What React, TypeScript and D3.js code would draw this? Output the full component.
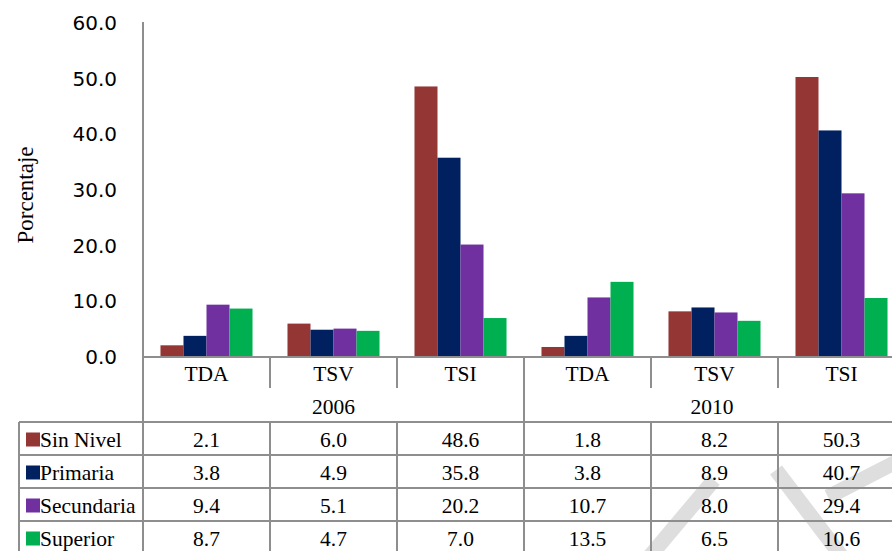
import React from 'react'
import * as d3 from 'd3'

const categories = ['TDA', 'TSV', 'TSI', 'TDA', 'TSV', 'TSI']
const years = ['2006', '2010']
const seriesNames = ['Sin Nivel', 'Primaria', 'Secundaria', 'Superior']
const seriesColors = ['#943634', '#002060', '#7030A0', '#00B050']
const sinNivel = [2.1, 6.0, 48.6, 1.8, 8.2, 50.3]
const primaria = [3.8, 4.9, 35.8, 3.8, 8.9, 40.7]
const secundaria = [9.4, 5.1, 20.2, 10.7, 8.0, 29.4]
const superior = [8.7, 4.7, 7.0, 13.5, 6.5, 10.6]
const yTicks = [0, 10, 20, 30, 40, 50, 60]

const series = [sinNivel, primaria, secundaria, superior]

const W = 892
const H = 551
const axisX = 143
const baseY = 357
const lineColor = '#8e8e8e'
const serifStyle = { fontFamily: 'Liberation Serif, Tinos, DejaVu Serif, serif' }
const fs = 21.5

export default function App() {
  const x0 = d3.scaleBand<number>().domain(d3.range(categories.length)).range([axisX, axisX + 127 * 6])
  const x1 = d3.scaleBand<number>().domain(d3.range(series.length)).range([0, x0.bandwidth()]).paddingOuter(0.76)
  const y = d3.scaleLinear().domain([0, 60]).range([baseY, 23])

  const catRowBottom = 388
  const yearRowBottom = 422
  const rowH = 33
  const groupEdges = d3.range(categories.length).map(i => x0(i)! + x0.bandwidth())
  const yearCenters = [(x0(0)! + x0(2)! + x0.bandwidth()) / 2, 712]

  return (
    <svg width={W} height={H} style={{ position: 'absolute', left: 0, top: 0, background: '#fff' }}>
      {/* watermark */}
      <g stroke="#dedede" strokeWidth={15}>
        <line x1={645} y1={562} x2={714} y2={480} />
        <line x1={776} y1={470} x2={846} y2={562} />
        <line x1={828} y1={497} x2={900} y2={460} />
      </g>

      {/* y label */}
      <text transform={`translate(25,195) rotate(-90)`} textAnchor="middle" dominantBaseline="central"
        style={serifStyle} fontSize={23}>Porcentaje</text>

      {/* y ticks */}
      {yTicks.map(t => (
        <text key={t} x={117} y={y(t)} textAnchor="end" dominantBaseline="central"
          style={{ fontFamily: 'DejaVu Sans, sans-serif' }} fontSize={20}>{t.toFixed(1)}</text>
      ))}

      {/* bars */}
      {series.map((vals, s) => vals.map((v, i) => (
        <rect key={`${s}-${i}`} x={x0(i)! + x1(s)!} y={y(v)} width={x1.bandwidth()} height={baseY - y(v)}
          fill={seriesColors[s]} />
      )))}

      {/* axis + table lines */}
      <g stroke={lineColor} strokeWidth={2}>
        <line x1={axisX} y1={22} x2={axisX} y2={H} />
        <line x1={axisX} y1={baseY} x2={W} y2={baseY} />
        {groupEdges.slice(0, -1).map((gx, i) => (
          <line key={`c${i}`} x1={gx} y1={baseY} x2={gx} y2={i === 2 ? yearRowBottom : catRowBottom} />
        ))}
        {groupEdges.slice(0, -1).map((gx, i) => (
          <line key={`d${i}`} x1={gx} y1={yearRowBottom} x2={gx} y2={H} />
        ))}
        <line x1={19} y1={yearRowBottom} x2={19} y2={H} />
        {seriesNames.map((_, r) => (
          <line key={`h${r}`} x1={19} y1={yearRowBottom + r * rowH} x2={W} y2={yearRowBottom + r * rowH} />
        ))}
      </g>

      {/* category row */}
      {categories.map((c, i) => (
        <text key={`cat${i}`} x={x0(i)! + x0.bandwidth() / 2} y={374} textAnchor="middle" dominantBaseline="central"
          style={serifStyle} fontSize={fs}>{c}</text>
      ))}
      {/* year row */}
      {years.map((yr, k) => (
        <text key={yr} x={yearCenters[k]} y={407} textAnchor="middle" dominantBaseline="central"
          style={serifStyle} fontSize={fs}>{yr}</text>
      ))}

      {/* data rows */}
      {series.map((vals, s) => {
        const cy = yearRowBottom + s * rowH + rowH / 2
        return (
          <g key={`row${s}`}>
            <rect x={26} y={cy - 6} width={14} height={14} fill={seriesColors[s]} />
            <text x={40} y={cy + 1} dominantBaseline="central" style={serifStyle} fontSize={fs}>{seriesNames[s]}</text>
            {vals.map((v, i) => (
              <text key={i} x={x0(i)! + x0.bandwidth() / 2} y={cy + 1} textAnchor="middle" dominantBaseline="central"
                style={serifStyle} fontSize={fs}>{v.toFixed(1)}</text>
            ))}
          </g>
        )
      })}
    </svg>
  )
}
